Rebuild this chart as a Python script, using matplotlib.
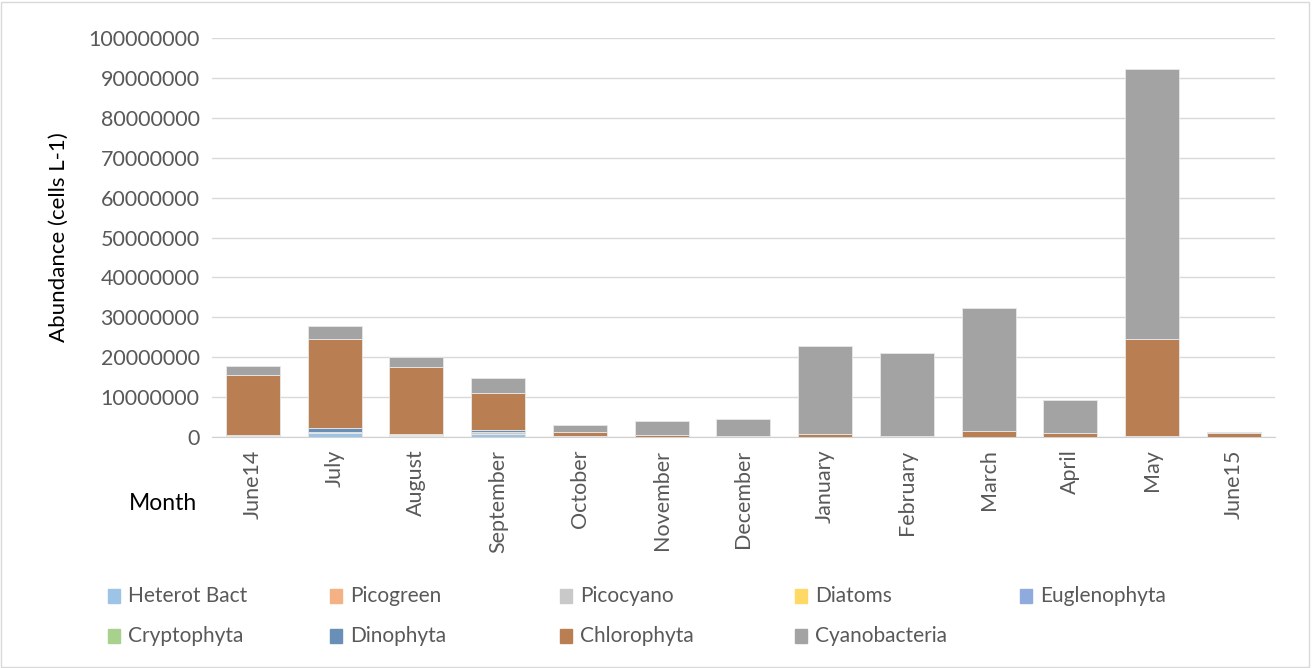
import numpy as np
import matplotlib.pyplot as plt
from matplotlib.patches import Rectangle

plt.rcParams['font.family'] = ['Lato', 'DejaVu Sans']

# values in millions of cells per litre
months = ["June14", "July", "August", "September", "October", "November", "December",
          "January", "February", "March", "April", "May", "June15"]
heterot_bact = [0.2, 1.0, 0.2, 0.8, 0.1, 0.05, 0.05, 0.05, 0.05, 0.05, 0.05, 0.05, 0.05]
picogreen = [0.1, 0.05, 0.05, 0.05, 0.0, 0.0, 0.0, 0.0, 0.0, 0.0, 0.0, 0.0, 0.0]
picocyano = [0.1, 0.3, 0.3, 0.3, 0.05, 0.0, 0.0, 0.0, 0.0, 0.0, 0.0, 0.0, 0.0]
diatoms = [0.0, 0.0, 0.2, 0.0, 0.0, 0.0, 0.0, 0.0, 0.0, 0.0, 0.0, 0.0, 0.0]
euglenophyta = [0.0, 0.0, 0.0, 0.0, 0.0, 0.0, 0.0, 0.0, 0.0, 0.0, 0.0, 0.0, 0.0]
cryptophyta = [0.1, 0.0, 0.05, 0.0, 0.0, 0.0, 0.0, 0.0, 0.0, 0.0, 0.0, 0.0, 0.0]
dinophyta = [0.0, 0.8, 0.0, 0.5, 0.0, 0.0, 0.0, 0.0, 0.0, 0.0, 0.0, 0.3, 0.0]
chlorophyta = [15.0, 22.5, 16.7, 9.4, 1.1, 0.5, 0.3, 0.6, 0.2, 1.5, 0.9, 24.3, 0.9]
cyanobacteria = [2.2, 3.2, 2.5, 3.8, 1.8, 3.35, 4.2, 22.2, 20.8, 30.8, 8.4, 67.6, 0.4]

series = ["Heterot Bact", "Picogreen", "Picocyano", "Diatoms", "Euglenophyta",
          "Cryptophyta", "Dinophyta", "Chlorophyta", "Cyanobacteria"]
data = [heterot_bact, picogreen, picocyano, diatoms, euglenophyta,
        cryptophyta, dinophyta, chlorophyta, cyanobacteria]
colors = ["#9DC3E6", "#F4B183", "#C9C9C9", "#FFD966", "#8FAADC",
          "#A9D18E", "#6A8FB6", "#B97E52", "#A3A3A3"]

fig = plt.figure(figsize=(13.12, 6.68), dpi=100)
ax = fig.add_axes([0.1616, 0.3458, 0.81, 0.5972])

x = np.arange(len(months))
bottom = np.zeros(len(months))
for name, vals, c in zip(series, data, colors):
    v = np.array(vals) * 1e6
    ax.bar(x, v, 0.66, bottom=bottom, color=c, edgecolor="#E8E8E8", linewidth=0.6, label=name, zorder=3)
    bottom += v

ax.set_ylim(0, 100e6)
ax.set_xlim(-0.5, len(months) - 0.5)
ax.set_yticks(np.arange(0, 100e6 + 1, 10e6))
ax.set_yticklabels([str(int(t)) for t in np.arange(0, 100e6 + 1, 10e6)])
ax.set_xticks(x)
ax.set_xticklabels(months, rotation=90)
ax.tick_params(axis='both', length=0, labelsize=15.5, colors="#595959", pad=9)
ax.grid(axis='y', color="#D9D9D9", linewidth=1, zorder=0)
for s in ["top", "right", "left"]:
    ax.spines[s].set_visible(False)
ax.spines["bottom"].set_color("#D0D0D0")
ax.set_ylabel("Abundance (cells L-1)", fontsize=16, labelpad=14)

fig.text(163 / 1312, 1 - 503 / 668, "Month", fontsize=16.5, ha='center', va='center')

# legend laid out in two rows
col_x = [108, 330, 560, 795, 1020]
row_y = [596, 636]
for i, (name, c) in enumerate(zip(series, colors)):
    px = col_x[i % 5]
    py = row_y[i // 5]
    fig.patches.append(Rectangle((px / 1312, 1 - (py + 7) / 668), 12 / 1312, 14 / 668,
                                 transform=fig.transFigure, color=c))
    fig.text((px + 20) / 1312, 1 - py / 668, name, fontsize=15, color="#595959", va='center')

fig.patches.append(Rectangle((0.001, 0.002), 0.997, 0.995, transform=fig.transFigure,
                             fill=False, edgecolor="#D9D9D9", linewidth=1))

fig.savefig("out.png", dpi=100)
